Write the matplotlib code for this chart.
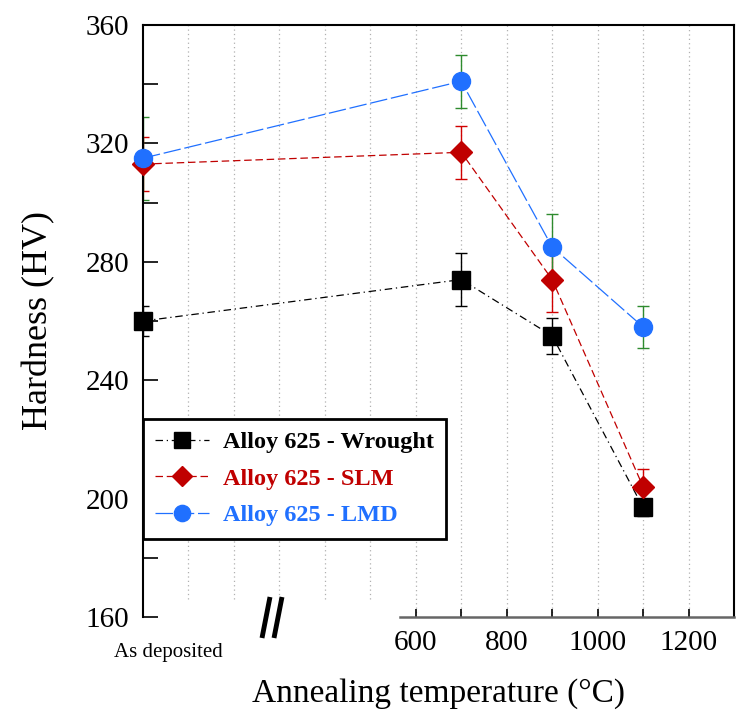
import matplotlib
matplotlib.use("Agg")
import matplotlib.pyplot as plt
from matplotlib.lines import Line2D

plt.rcParams['font.family'] = ['Liberation Serif', 'DejaVu Serif']

# Data
temps = [0, 700, 900, 1100]  # 0 = as deposited
wrought = [260, 274, 255, 197]
wrought_err = [5, 9, 6, 3]
slm = [313, 317, 274, 204]
slm_err = [9, 9, 11, 6]
lmd = [315, 341, 285, 258]
lmd_err = [14, 9, 11, 7]

labels = ['Alloy 625 - Wrought', 'Alloy 625 - SLM', 'Alloy 625 - LMD']
xticks_major = [600, 800, 1000, 1200]
xticks_minor = [700, 900, 1100]
grid_x = list(range(100, 1300, 100))

fig = plt.figure(figsize=(7.36, 7.13), dpi=100)
ax = fig.add_axes([143/736, 1-617/713, (734-143)/736, (617-25)/713])
ax.set_xlim(0, 1300)
ax.set_ylim(160, 360)

# grid
for gx in grid_x:
    ax.axvline(gx, ymin=(0 if gx >= 600 else 0.03), color='#b0b0b0', lw=0.9,
               ls=(0, (1, 2.5)), zorder=0)

series = [
    (wrought, wrought_err, 'black', 'black', 's', 13, (0, (6, 3, 1, 3)), 0.9),
    (slm, slm_err, '#c00000', '#d00000', 'D', 11, (0, (6, 3)), 0.9),
    (lmd, lmd_err, '#2070ff', '#2e8b2e', 'o', 13, (0, (14, 3)), 0.9),
]
handles = []
for (vals, err, c, ec, m, ms, ls, lw), lab in zip(series, labels):
    ax.errorbar(temps, vals, yerr=err, fmt='none', ecolor=ec, elinewidth=1.0,
                capsize=4, capthick=1.0, zorder=2)
    ax.plot(temps, vals, color=c, ls=ls, lw=lw, zorder=3)
    ax.plot(temps, vals, ls='none', marker=m, ms=ms, color=c, mec=c,
            zorder=4, clip_on=False)
    handles.append(Line2D([0], [0], color=c, ls=ls, lw=lw, marker=m,
                          ms=ms*0.9, mec=c))

# spines
for s in ['left', 'top', 'right']:
    ax.spines[s].set_linewidth(1.5)
    ax.spines[s].set_color('black')
ax.spines['bottom'].set_bounds(565, 1300)
ax.spines['bottom'].set_color('#666666')
ax.spines['bottom'].set_linewidth(1.8)

ax.set_yticks([160, 200, 240, 280, 320, 360])
ax.set_yticks([180, 220, 260, 300, 340], minor=True)
ax.set_xticks(xticks_major)
ax.set_xticks(xticks_minor, minor=True)
ax.tick_params(axis='y', which='both', direction='in', length=11, width=1.2,
               labelsize=21, pad=10)
ax.tick_params(axis='x', which='both', direction='in', length=6, width=1.2,
               labelsize=21, pad=9)

ax.set_ylabel('Hardness (HV)', fontsize=26, labelpad=22)
ax.set_xlabel('Annealing temperature (°C)', fontsize=24, labelpad=16)

ax.text(25/591, -0.06, 'As deposited', transform=ax.transAxes, fontsize=15,
        ha='center', va='center')

# axis break mark
for dx in [0, 12/591]:
    ax.plot([119/591 + dx, 127/591 + dx], [-21/592, 20/592], color='black',
            lw=3.5, transform=ax.transAxes, clip_on=False, solid_capstyle='butt')

leg = ax.legend(handles, labels, loc='upper left', bbox_to_anchor=(0, (617-419)/592),
                borderaxespad=0, frameon=True, fancybox=False,
                edgecolor='black', handlelength=2.2, handletextpad=0.6,
                labelspacing=0.6, borderpad=0.5, prop={'weight': 'bold', 'size': 17.5})
leg.get_frame().set_linewidth(2)
leg.get_frame().set_alpha(1)
for t, (vals, err, c, *_r) in zip(leg.get_texts(), series):
    t.set_color(c)

fig.savefig('out.png', dpi=100)
